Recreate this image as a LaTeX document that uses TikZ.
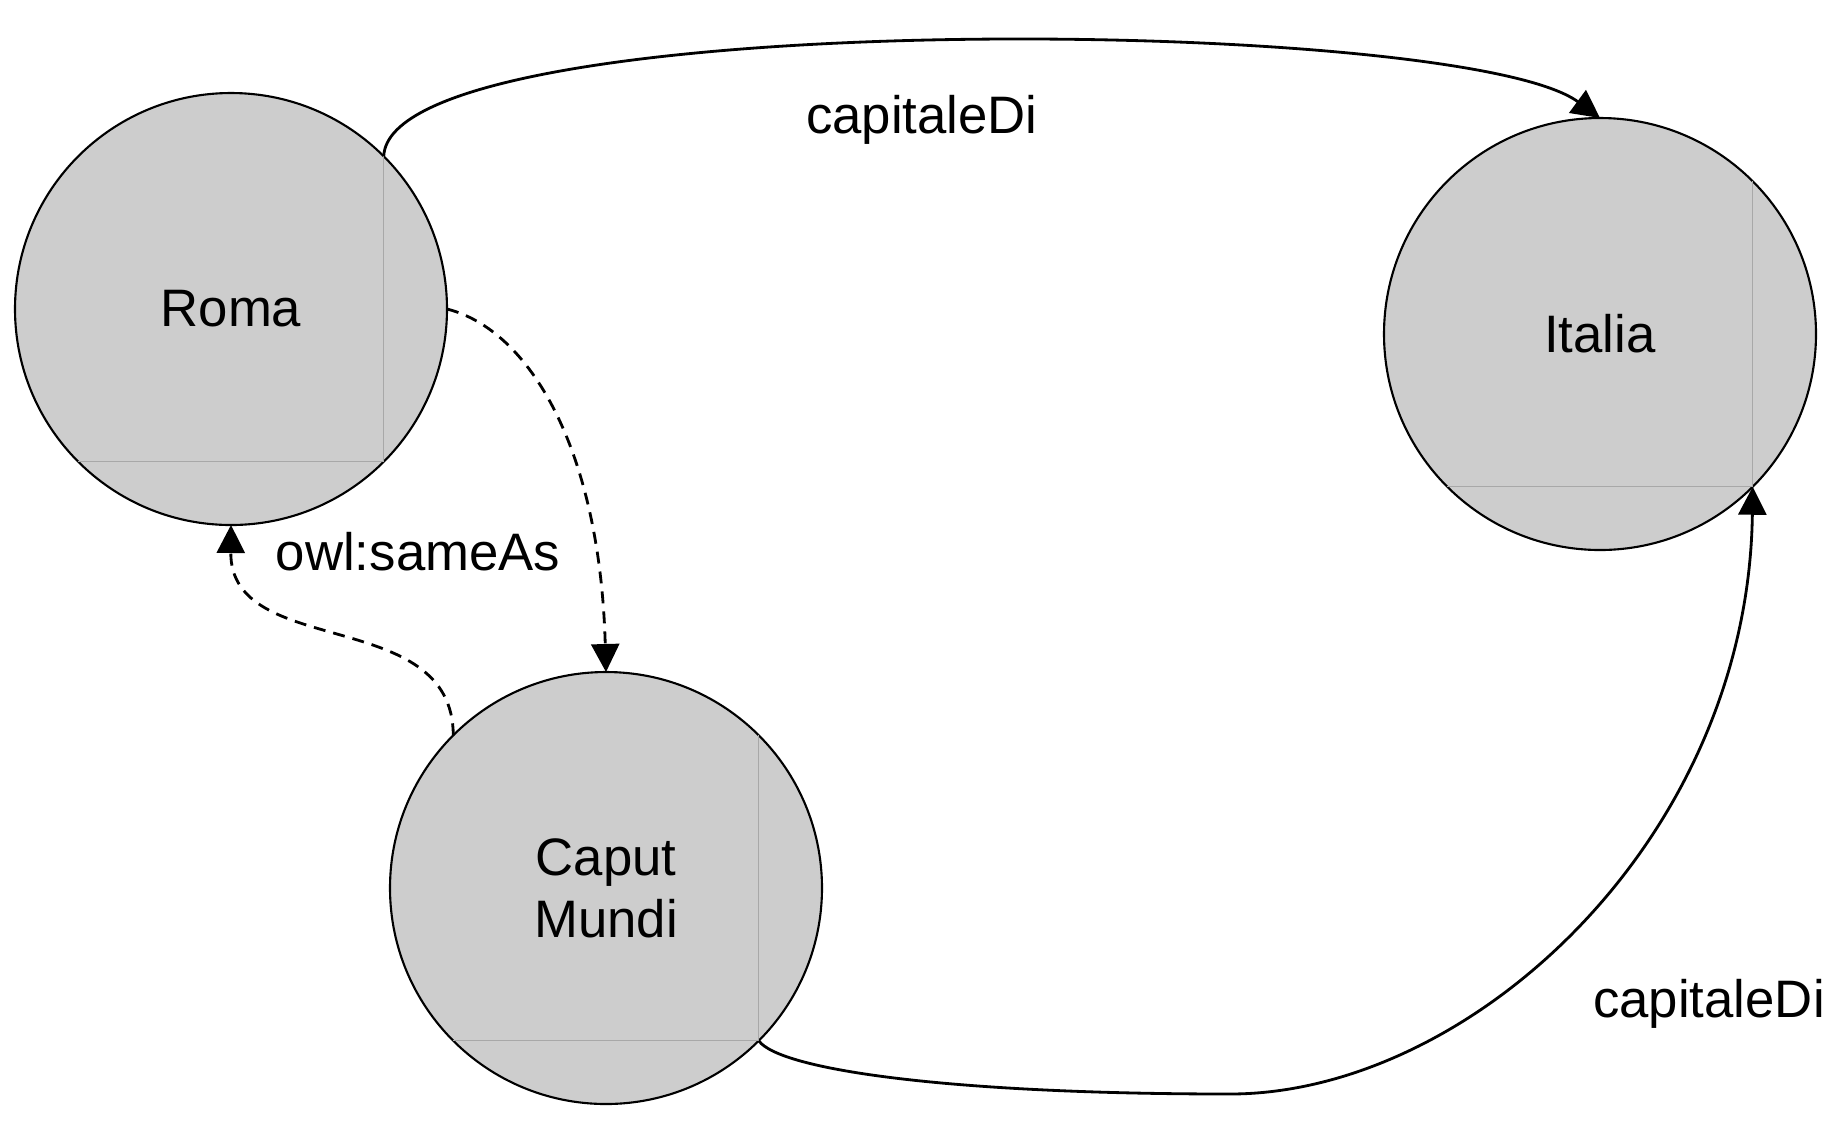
\documentclass[tikz,border=0pt]{standalone}
\usepackage{fontspec}
\setmainfont{Liberation Sans}
\usetikzlibrary{arrows.meta}
\definecolor{cfill}{HTML}{CDCDCD}
\definecolor{cframe}{HTML}{A8A8A8}
\tikzset{
  every picture/.style={font=\fontsize{15}{17.6}\selectfont, line width=0.8pt},
  res/.style={circle, draw=black, line width=0.6pt, fill=cfill, minimum size=4.32cm, inner sep=0pt, outer sep=0pt, align=center},
  rel/.style={-{Triangle[length=2.8mm, width=2.8mm]}, draw=black, line width=0.8pt},
  sameas/.style={rel, dash pattern=on 3.4pt off 2.3pt},
  lbl/.style={anchor=base, inner sep=0pt},
  frame/.style={draw=cframe, line width=0.3pt},
}

\begin{document}
\begin{tikzpicture}
  \useasboundingbox (0,0) rectangle (18.44,-11.22);
  \node[res] (roma) at (2.31, -3.09) {Roma};
  \node[res] (italia) at (16.00, -3.34) {Italia};
  \node[res] (caput) at (6.06, -8.88) {Caput\\Mundi};
  \foreach \n in {roma, italia, caput}
    \draw[frame] (\n.north east) -- (\n.south east) -- (\n.south west);
  % capitaleDi edges
  \draw[rel] (roma.north east) .. controls (3.90, -0.05) and (14.60, -0.15) .. (italia.north);
  \draw[rel] (caput.south east) .. controls (7.80, -10.70) and (9.50, -10.94) .. (12.30, -10.94)
    .. controls (14.70, -10.94) and (17.48, -8.40) .. (italia.south east);
  % owl:sameAs edges
  \draw[sameas] (roma.east) .. controls (5.30, -3.30) and (6.00, -4.50) .. (caput.north);
  \draw[sameas] (caput.north west) .. controls (4.53, -6.05) and (2.30, -6.60) .. (roma.south);
  \node[lbl] (lblTop) at (9.22, -1.33) {capitaleDi};
  \node[lbl] (lblSame) at (4.18, -5.70) {owl:sameAs};
  \node[lbl] (lblBottom) at (17.09, -10.17) {capitaleDi};
\end{tikzpicture}
\end{document}
